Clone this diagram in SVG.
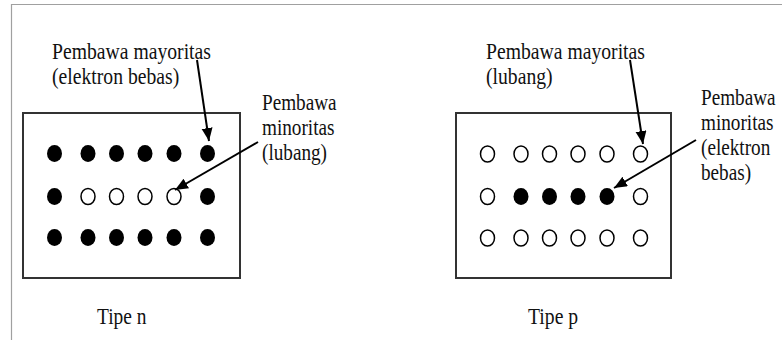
<svg xmlns="http://www.w3.org/2000/svg" width="782" height="340" viewBox="0 0 782 340">
<style>
  .box{fill:#fff;stroke:#333;stroke-width:2}
  .f{fill:#000}
  .h{fill:#fff;stroke:#000;stroke-width:1.5}
  .arr{stroke:#000;stroke-width:2;fill:none;marker-end:url(#ah)}
  .page{stroke:#a0a0a0;stroke-width:1.2;fill:none}
</style>
<defs>
  <marker id="ah" markerUnits="userSpaceOnUse" markerWidth="14" markerHeight="12" refX="13" refY="5.5" orient="auto">
    <path d="M0,0 L13,5.5 L0,11 z" fill="#000"/>
  </marker>
  <ellipse id="fd" cx="0" cy="0" rx="7.5" ry="8.5" class="f"/>
  <ellipse id="hd" cx="0" cy="0" rx="7" ry="8" class="h"/>
</defs>
<rect width="782" height="340" fill="#fff"/>
<path class="page" d="M11,4.5 H782 M11.5,4 V340"/>

<g font-family="Liberation Serif, Times New Roman, serif" font-size="24" fill="#111">
<g id="ntype">
  <rect class="box" x="23" y="113" width="217" height="165"/>
  <use href="#fd" x="54.5" y="153.5"/><use href="#fd" x="88" y="153.5"/><use href="#fd" x="116.5" y="153.5"/><use href="#fd" x="145" y="153.5"/><use href="#fd" x="174" y="153.5"/><use href="#fd" x="207.5" y="153.5"/>
  <use href="#fd" x="54.5" y="196.5"/><use href="#hd" x="88" y="196.5"/><use href="#hd" x="116.5" y="196.5"/><use href="#hd" x="145" y="196.5"/><use href="#hd" x="174" y="196.5"/><use href="#fd" x="207.5" y="196.5"/>
  <use href="#fd" x="54.5" y="237.5"/><use href="#fd" x="88" y="237.5"/><use href="#fd" x="116.5" y="237.5"/><use href="#fd" x="145" y="237.5"/><use href="#fd" x="174" y="237.5"/><use href="#fd" x="207.5" y="237.5"/>
  <text transform="translate(97,324) scale(0.81,1)">Tipe n</text>
</g>
<g id="n-major-label" transform="translate(52,0) scale(0.82,1)">
  <text x="0" y="59">Pembawa mayoritas</text>
  <text x="0" y="84">(elektron bebas)</text>
</g>
<g id="n-minor-label" transform="translate(262,0) scale(0.8,1)">
  <text x="0" y="110">Pembawa</text>
  <text x="0" y="135">minoritas</text>
  <text x="0" y="160">(lubang)</text>
</g>

<g id="ptype">
  <rect class="box" x="456" y="113" width="215" height="165"/>
  <use href="#hd" x="487.5" y="154"/><use href="#hd" x="521" y="154"/><use href="#hd" x="549.5" y="154"/><use href="#hd" x="578" y="154"/><use href="#hd" x="607" y="154"/><use href="#hd" x="640.5" y="154"/>
  <use href="#hd" x="487.5" y="196.5"/><use href="#fd" x="521" y="196.5"/><use href="#fd" x="549.5" y="196.5"/><use href="#fd" x="578" y="196.5"/><use href="#fd" x="607" y="196.5"/><use href="#hd" x="640.5" y="196.5"/>
  <use href="#hd" x="487.5" y="238"/><use href="#hd" x="521" y="238"/><use href="#hd" x="549.5" y="238"/><use href="#hd" x="578" y="238"/><use href="#hd" x="607" y="238"/><use href="#hd" x="640.5" y="238"/>
  <text transform="translate(528,324) scale(0.82,1)">Tipe p</text>
</g>
<g id="p-major-label" transform="translate(486,0) scale(0.82,1)">
  <text x="0" y="59">Pembawa mayoritas</text>
  <text x="0" y="84">(lubang)</text>
</g>
<g id="p-minor-label" transform="translate(701,0) scale(0.8,1)">
  <text x="0" y="105">Pembawa</text>
  <text x="0" y="130">minoritas</text>
  <text x="0" y="155">(elektron</text>
  <text x="0" y="180">bebas)</text>
</g>
</g>

<g id="connectors">
  <line class="arr" x1="197" y1="60" x2="209" y2="141"/>
  <line class="arr" x1="258" y1="142" x2="175" y2="190"/>
  <line class="arr" x1="630" y1="60" x2="643" y2="144"/>
  <line class="arr" x1="696" y1="140" x2="614" y2="188"/>
</g>
</svg>
